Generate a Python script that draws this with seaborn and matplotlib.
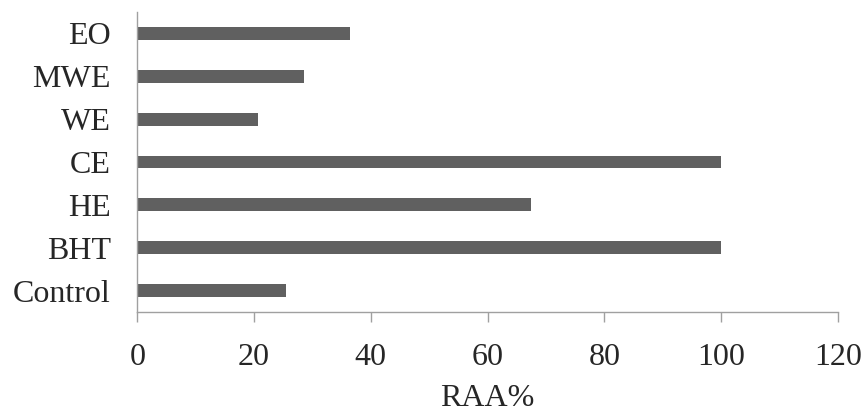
import matplotlib
matplotlib.use("Agg")
import matplotlib.pyplot as plt
import pandas as pd
import seaborn as sns

# values (top to bottom)
categories = ['EO', 'MWE', 'WE', 'CE', 'HE', 'BHT', 'Control']
raa = [36.4, 28.6, 20.6, 100, 67.4, 100, 25.4]
xticks = [0, 20, 40, 60, 80, 100, 120]

df = pd.DataFrame({'sample': categories, 'RAA%': raa})

sns.set_style('white')
plt.rcParams['font.family'] = ['Liberation Serif', 'DejaVu Serif']

fig = plt.figure(figsize=(8.64, 4.07), dpi=100)
ax = fig.add_axes([0.159, 0.2334, 0.8106, 0.7371])

sns.barplot(data=df, x='RAA%', y='sample', order=categories,
            color='#606060', saturation=1, width=0.3, linewidth=0, ax=ax)

ax.set_xlim(0, 120)
ax.set_ylim(6.5, -0.5)
ax.set_xticks(xticks)
ax.set_xlabel('RAA%', fontsize=23, labelpad=9)
ax.set_ylabel('')

for side in ['top', 'right']:
    ax.spines[side].set_visible(False)
for side in ['left', 'bottom']:
    ax.spines[side].set_color('#a0a0a0')
    ax.spines[side].set_linewidth(1.0)

ax.tick_params(axis='x', direction='out', length=7, width=1.0, color='#a0a0a0',
               labelsize=23, pad=15, bottom=True)
ax.tick_params(axis='y', length=0, labelsize=23, pad=19)

fig.savefig('out.png', dpi=100)
